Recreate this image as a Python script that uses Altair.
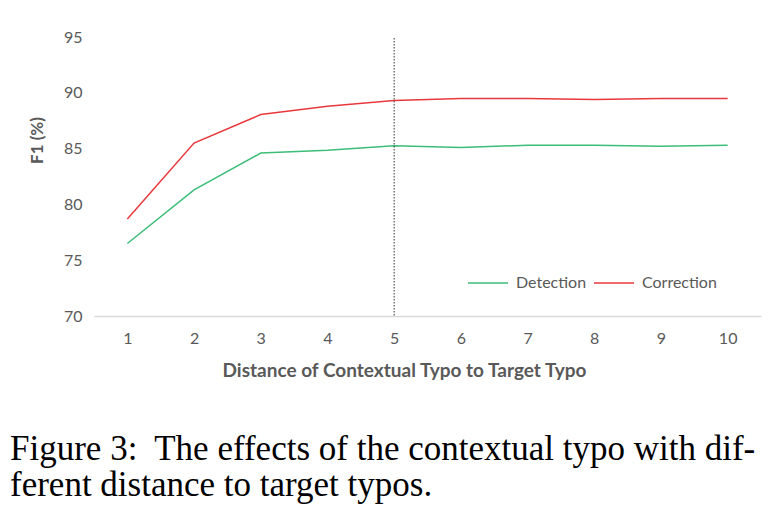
import altair as alt
import pandas as pd

distance = [1, 2, 3, 4, 5, 6, 7, 8, 9, 10]
detection = [76.5, 81.3, 84.6, 84.85, 85.25, 85.1, 85.3, 85.3, 85.2, 85.3]
correction = [78.7, 85.5, 88.05, 88.8, 89.3, 89.5, 89.5, 89.4, 89.5, 89.5]
series_names = ["Detection", "Correction"]
series_colors = ["#3cbd78", "#e8383d"]
marker_distance = [5]
caption = ["Figure 3:\u00a0 The effects of the contextual typo with dif-",
           "ferent distance to target typos."]

rows = []
for d, v in zip(distance, detection):
    rows.append({"Distance": d, "F1": v, "Series": "Detection"})
for d, v in zip(distance, correction):
    rows.append({"Distance": d, "F1": v, "Series": "Correction"})
df = pd.DataFrame(rows)

FONT = "Lato"
GRAY = "#595959"

x_enc = alt.X(
    "Distance:O",
    sort=distance,
    scale=alt.Scale(type="point", padding=0.5),
    axis=alt.Axis(
        title="Distance of Contextual Typo to Target Typo",
        labelAngle=0,
        ticks=False,
        domainColor="#d9d9d9",
        domainWidth=1.5,
        labelColor=GRAY,
        labelFont=FONT,
        labelFontSize=16,
        labelPadding=14,
        titleFont=FONT,
        titleFontSize=19,
        titleFontWeight="bold",
        titleColor=GRAY,
        titlePadding=15,
        titleX=310,
        titleAnchor="middle",
    ),
)

lines = alt.Chart(df).mark_line(strokeWidth=1.5).encode(
    x=x_enc,
    y=alt.Y(
        "F1:Q",
        scale=alt.Scale(domain=[70, 95], nice=False, zero=False),
        axis=alt.Axis(
            title="F1 (%)",
            values=[70, 75, 80, 85, 90, 95],
            grid=False,
            domain=False,
            ticks=False,
            labelColor=GRAY,
            labelFont=FONT,
            labelFontSize=16,
            labelPadding=12,
            titleFont=FONT,
            titleFontSize=17,
            titleFontWeight="bold",
            titleColor=GRAY,
            titleX=-48,
            titleY=103,
        ),
    ),
    color=alt.Color(
        "Series:N",
        sort=series_names,
        scale=alt.Scale(domain=series_names, range=series_colors),
        legend=alt.Legend(
            title=None,
            orient="none",
            legendX=373,
            legendY=225,
            direction="horizontal",
            symbolType="stroke",
            symbolSize=1600,
            symbolStrokeWidth=1.5,
            labelFont=FONT,
            labelFontSize=16,
            labelColor=GRAY,
            columnPadding=4,
            labelOffset=7,
        ),
    ),
)

vline = alt.Chart(pd.DataFrame({"Distance": marker_distance})).mark_rule(
    color="#333333", strokeDash=[1.5, 1.5], strokeWidth=1
).encode(x=alt.X("Distance:O", sort=distance), y=alt.value(1), y2=alt.value(279))

chart = (
    alt.layer(lines, vline)
    .properties(
        width=667,
        height=279,
        background="#ffffff",
        padding={"left": 94, "top": 37, "right": 23, "bottom": 200},
        autosize=alt.AutoSizeParams(type="none"),
        title=alt.TitleParams(
            text=caption,
            orient="bottom",
            anchor="start",
            frame="group",
            font="Liberation Serif",
            fontSize=35,
            fontWeight="normal",
            color="#000000",
            lineHeight=36,
            dx=-84,
            offset=52,
        ),
    )
    .configure_view(strokeWidth=0, stroke="transparent")
)

chart.save("out.html", embed_options={"renderer": "svg", "actions": False})
